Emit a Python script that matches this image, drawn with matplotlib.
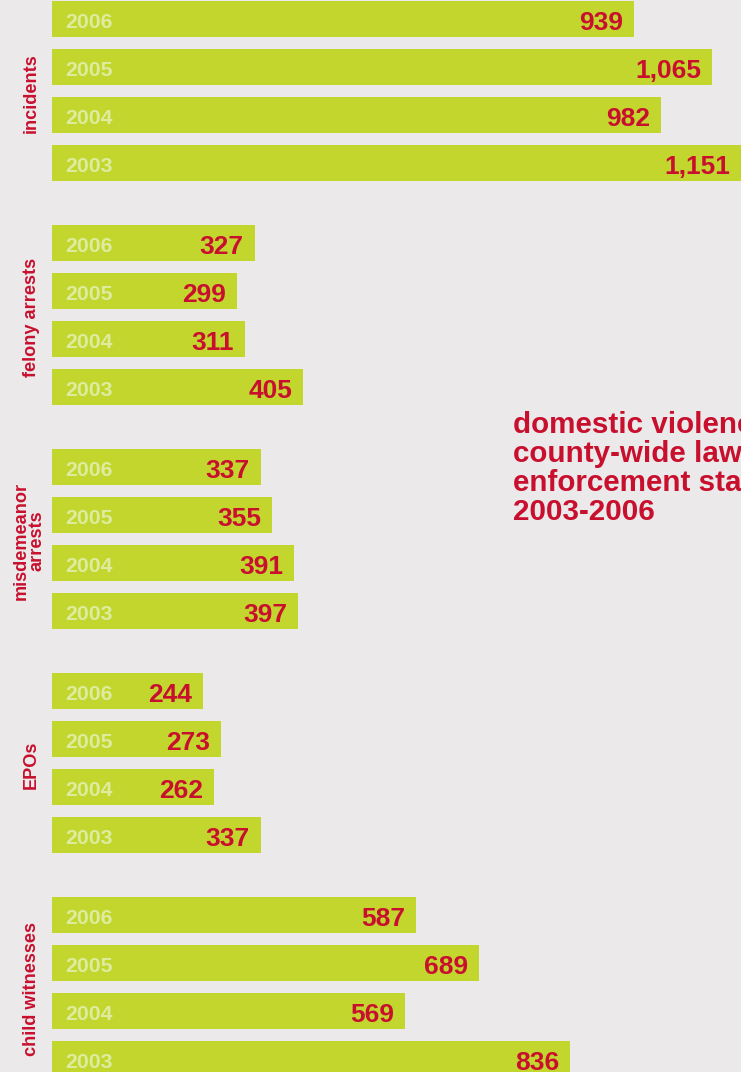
import matplotlib
matplotlib.use("Agg")
import matplotlib.pyplot as plt

# data
groups = ["incidents", "felony arrests", "misdemeanor\narrests", "EPOs", "child witnesses"]
years = ["2006", "2005", "2004", "2003"]
incidents = [939, 1065, 982, 1151]
felony = [327, 299, 311, 405]
misdemeanor = [337, 355, 391, 397]
epos = [244, 273, 262, 337]
child = [587, 689, 569, 836]
series = [incidents, felony, misdemeanor, epos, child]
title = "domestic violence\ncounty-wide law\nenforcement stats\n2003-2006"

GREEN = "#c2d62e"
RED = "#c8102e"
YEARCOL = "#dfeca0"
BG = "#ebe9e9"

plt.rcParams["font.family"] = ["Liberation Sans", "DejaVu Sans"]

W, H = 741, 1072
fig = plt.figure(figsize=(W / 100, H / 100), dpi=100)
fig.patch.set_facecolor(BG)

x0 = 52  # px where the bars start
px_per_unit = 0.62
xmax = (W - x0) / px_per_unit
ax = fig.add_axes([x0 / W, 0, (W - x0) / W, 1])
ax.set_xlim(0, xmax)
ax.set_ylim(H, 0)
ax.axis("off")

group_pitch = 224
bar_pitch = 48
first_center = 19

for g, (name, vals) in enumerate(zip(groups, series)):
    ys = [first_center + g * group_pitch + i * bar_pitch for i in range(len(vals))]
    ax.barh(ys, vals, height=36, color=GREEN, linewidth=0)
    for y, v, yr in zip(ys, vals, years):
        ax.annotate(yr, xy=(0, y), xytext=(13, -9), textcoords="offset pixels",
                    ha="left", va="baseline", fontsize=15.3, color=YEARCOL,
                    fontweight="bold")
        # label sits at the bar end, or at the edge if the bar runs off
        ax.annotate("{:,}".format(v), xy=(min(v, xmax), y), xytext=(-11, -11),
                    textcoords="offset pixels", ha="right", va="baseline",
                    fontsize=19, color=RED, fontweight="bold",
                    annotation_clip=False)
    yc = (ys[0] + ys[-1]) / 2 + 2
    xc = 29 if "\n" in name else 31
    fig.text(xc / W, 1 - yc / H, name, rotation=90, ha="center", va="center",
             multialignment="center", linespacing=0.9, fontsize=13.1,
             color=RED, fontweight="bold")

fig.text(513 / W, 1 - 411 / H, title, ha="left", va="top", fontsize=21.3,
         color=RED, fontweight="bold", linespacing=1.05)

fig.savefig("out.png", dpi=100, facecolor=fig.get_facecolor())
